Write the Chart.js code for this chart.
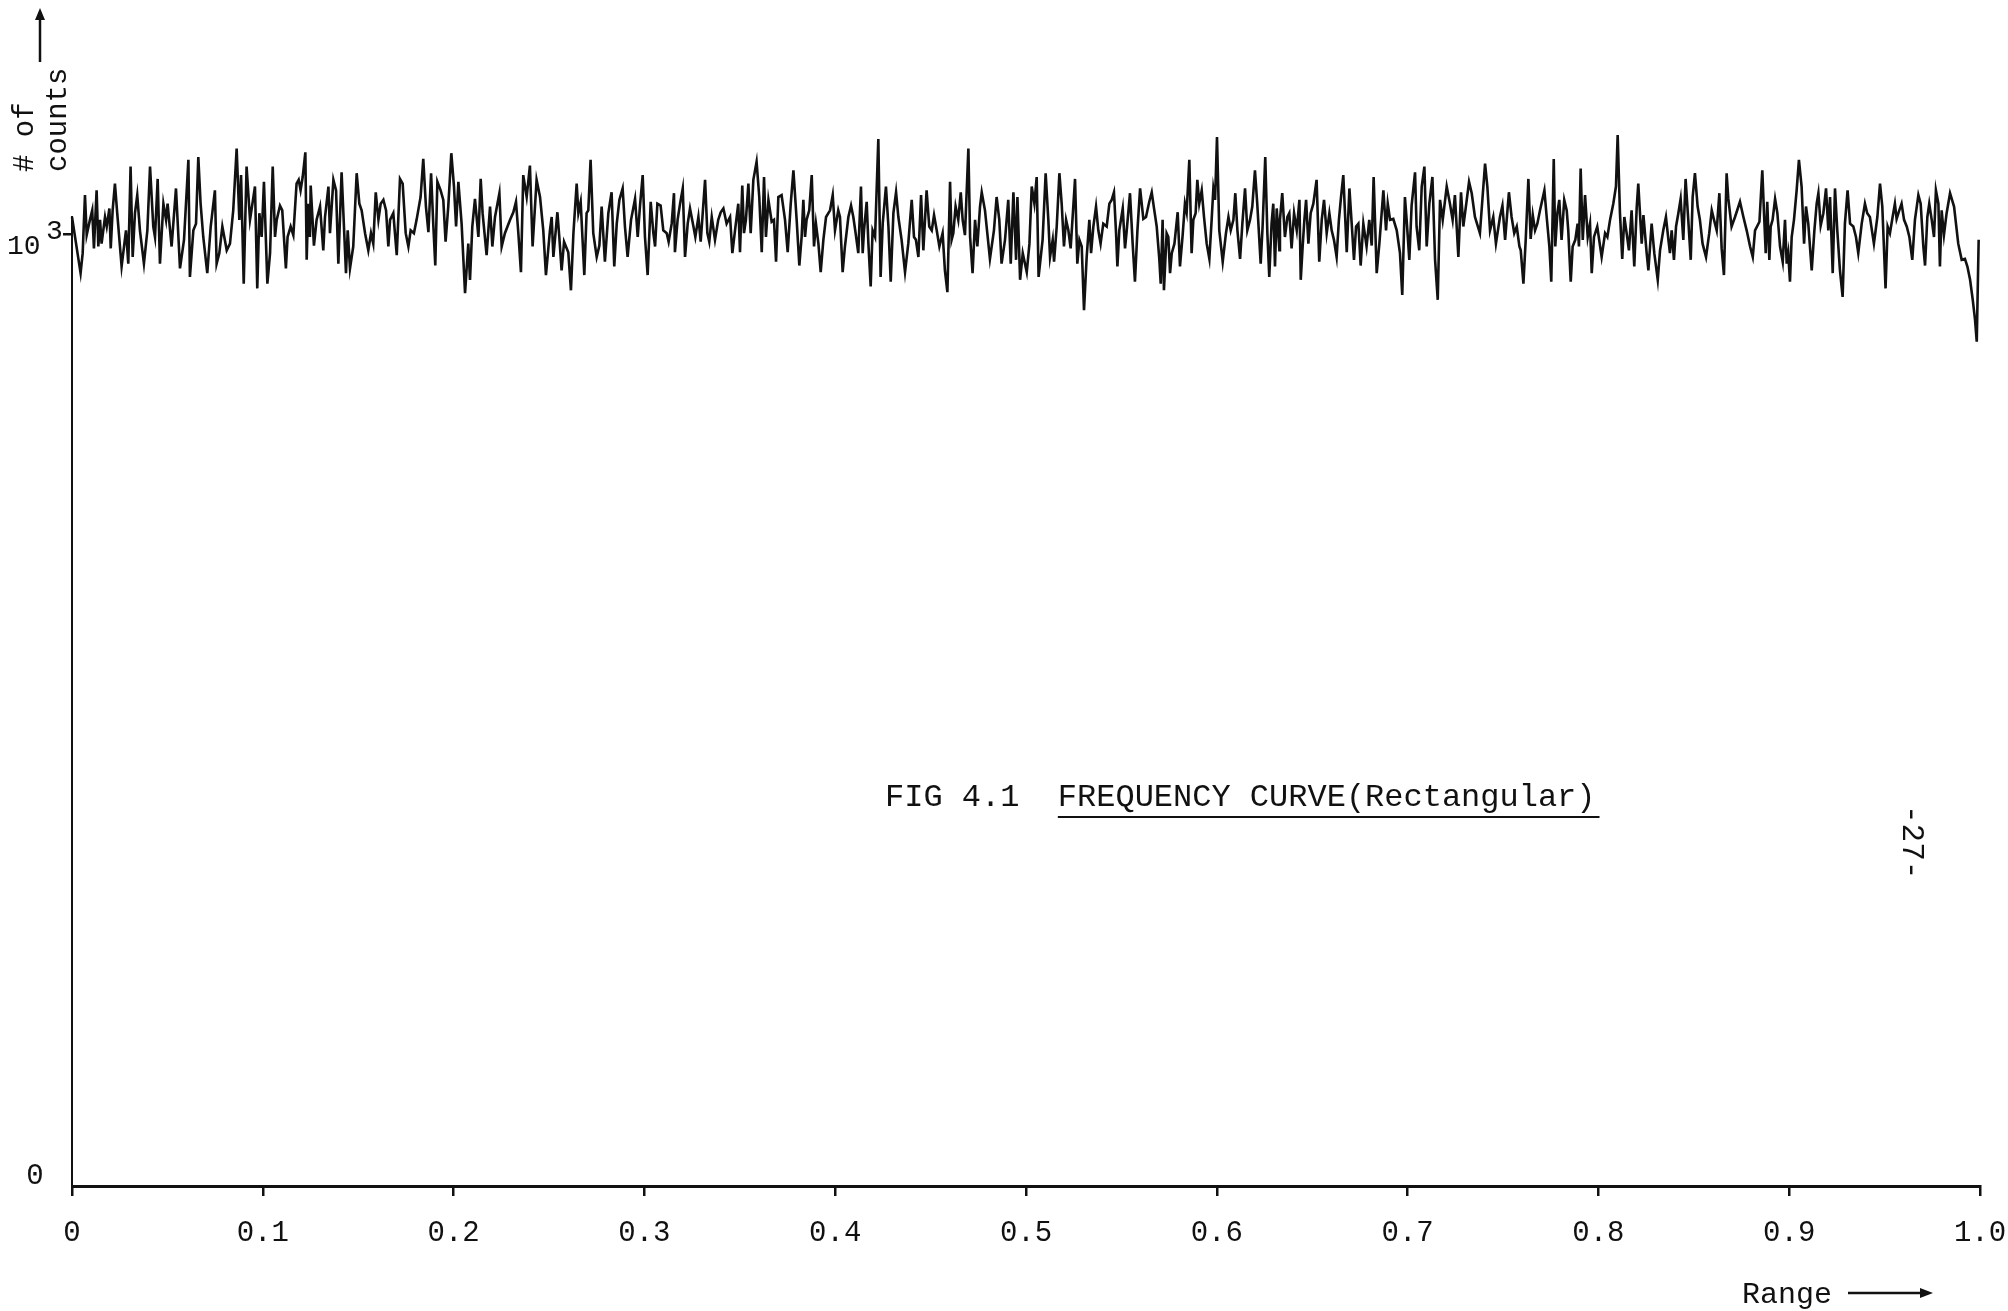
<!DOCTYPE html>
<html>
<head>
<meta charset="utf-8">
<script src="https://cdn.jsdelivr.net/npm/chart.js@4"></script>
<style>
  html, body { margin: 0; padding: 0; background: #fff; }
  canvas { display: block; }
</style>
</head>
<body>
<canvas id="chart" width="2008" height="1311"></canvas>
<script>
// range (bin position) and number of counts
const rangeValues = [
  0, 0.0045, 0.0056, 0.0068, 0.0077, 0.0094, 0.0106, 0.0115, 0.0129, 0.0138,
  0.0147, 0.0155, 0.0173, 0.0182, 0.0196, 0.0203, 0.0213, 0.0225, 0.0237, 0.0260,
  0.0283, 0.0295, 0.0307, 0.0318, 0.0330, 0.0342, 0.0356, 0.0377, 0.0395, 0.0409,
  0.0426, 0.0435, 0.0449, 0.0461, 0.0479, 0.0493, 0.0501, 0.0522, 0.0545, 0.0566,
  0.0587, 0.0610, 0.0618, 0.0636, 0.0650, 0.0662, 0.0674, 0.0688, 0.0709, 0.0727,
  0.0749, 0.0758, 0.0772, 0.0788, 0.0811, 0.0828, 0.0845, 0.0863, 0.0877, 0.0886,
  0.0900, 0.0915, 0.0933, 0.0959, 0.0971, 0.0982, 0.0994, 0.1006, 0.1024, 0.1038,
  0.1052, 0.1064, 0.1073, 0.1090, 0.1102, 0.1121, 0.1130, 0.1146, 0.1160, 0.1177,
  0.1188, 0.1198, 0.1209, 0.1223, 0.1230, 0.1238, 0.1247,
  0.1251, 0.1268, 0.1282, 0.1300, 0.1317, 0.1326, 0.1344, 0.1352, 0.1370, 0.1384,
  0.1396, 0.1413, 0.1436, 0.1445, 0.1457, 0.1474, 0.1492, 0.1506, 0.1518, 0.1536,
  0.1553, 0.1567, 0.1579, 0.1592, 0.1606, 0.1618, 0.1632, 0.1646, 0.1658, 0.1667,
  0.1684, 0.1702, 0.1719, 0.1733, 0.1749, 0.1763, 0.1775, 0.1792, 0.1806, 0.1827,
  0.1841, 0.1855, 0.1868, 0.1882, 0.1894, 0.1904, 0.1915, 0.1932, 0.1946, 0.1958,
  0.1972, 0.1988, 0.2002, 0.2013, 0.2025, 0.2042, 0.2060, 0.2077, 0.2086, 0.2098,
  0.2112, 0.2130, 0.2142, 0.2152, 0.2173, 0.2191, 0.2203, 0.2217, 0.2240, 0.2252,
  0.2269, 0.2296, 0.2313, 0.2327, 0.2339, 0.2353, 0.2365, 0.2383, 0.2400, 0.2414,
  0.2435, 0.2453, 0.2470, 0.2484, 0.2505,
  0.2514, 0.2523, 0.2544, 0.2554, 0.2566, 0.2579, 0.2601, 0.2615, 0.2628, 0.2645,
  0.2654, 0.2666, 0.2685, 0.2697, 0.2706, 0.2718, 0.2732, 0.2750, 0.2764, 0.2776,
  0.2793, 0.2811, 0.2828, 0.2842, 0.2855, 0.2869, 0.2886, 0.2898, 0.2912, 0.2930,
  0.2951, 0.2965, 0.2977, 0.2991, 0.3003, 0.3017, 0.3033, 0.3047, 0.3056, 0.3068,
  0.3085, 0.3099, 0.3117, 0.3127, 0.3143, 0.3155, 0.3160, 0.3174, 0.3187, 0.3201,
  0.3213, 0.3227, 0.3239, 0.3257, 0.3267, 0.3283, 0.3295, 0.3318, 0.3330, 0.3340,
  0.3353, 0.3370, 0.3387, 0.3400, 0.3414, 0.3431, 0.3449, 0.3461, 0.3475, 0.3492,
  0.3501, 0.3513, 0.3522, 0.3532, 0.3545, 0.3557, 0.3571, 0.3588, 0.3602, 0.3615,
  0.3627, 0.3637, 0.3650, 0.3667, 0.3679, 0.3690, 0.3702, 0.3719, 0.3737, 0.3751,
  0.3767, 0.3781, 0.3798, 0.3812,
  0.3824, 0.3833, 0.3842, 0.3850, 0.3864, 0.3877, 0.3889, 0.3899, 0.3912, 0.3924,
  0.3938, 0.3952, 0.3973, 0.3987, 0.3999, 0.4016, 0.4025, 0.4039, 0.4051, 0.4069,
  0.4083, 0.4095, 0.4107, 0.4121, 0.4135, 0.4144, 0.4151, 0.4165, 0.4174, 0.4186,
  0.4196, 0.4209, 0.4226, 0.4238, 0.4249, 0.4266, 0.4279, 0.4291, 0.4305, 0.4319,
  0.4331, 0.4348, 0.4366, 0.4383, 0.4401, 0.4413, 0.4423, 0.4436, 0.4450, 0.4462,
  0.4479, 0.4493, 0.4506, 0.4518, 0.4532, 0.4546, 0.4563, 0.4575, 0.4588, 0.4602,
  0.4610, 0.4619, 0.4631, 0.4645, 0.4658, 0.4668, 0.4680, 0.4698, 0.4707, 0.4720,
  0.4733, 0.4745, 0.4759, 0.4768, 0.4785, 0.4811, 0.4832, 0.4846, 0.4860, 0.4872,
  0.4890, 0.4907, 0.4920, 0.4934, 0.4948, 0.4955, 0.4969, 0.4983, 0.5004, 0.5018,
  0.5030, 0.5044, 0.5056, 0.5066,
  0.5087, 0.5103, 0.5117, 0.5126, 0.5140, 0.5147, 0.5161, 0.5175, 0.5187, 0.5199,
  0.5210, 0.5222, 0.5234, 0.5257, 0.5269, 0.5280, 0.5292, 0.5304, 0.5318, 0.5332,
  0.5341, 0.5353, 0.5367, 0.5379, 0.5391, 0.5405, 0.5423, 0.5437, 0.5449, 0.5461,
  0.5472, 0.5479, 0.5489, 0.5507, 0.5519, 0.5528, 0.5545, 0.5559, 0.5571, 0.5584,
  0.5598, 0.5615, 0.5629, 0.5646, 0.5659, 0.5671, 0.5685, 0.5699, 0.5706, 0.5716,
  0.5723, 0.5737, 0.5746, 0.5755, 0.5764, 0.5778, 0.5795, 0.5807, 0.5821, 0.5833,
  0.5842, 0.5856, 0.5868, 0.5877, 0.5889, 0.5898, 0.5908, 0.5921, 0.5933, 0.5947,
  0.5961, 0.5973, 0.5982, 0.5991, 0.6001, 0.6013, 0.6031, 0.6048, 0.6061, 0.6073,
  0.6087, 0.6097, 0.6108, 0.6122, 0.6134, 0.6148, 0.6160, 0.6174, 0.6186, 0.6200,
  0.6212, 0.6230, 0.6240, 0.6254, 0.6265, 0.6275, 0.6287, 0.6296, 0.6305, 0.6314,
  0.6328,
  0.6331, 0.6343, 0.6357, 0.6370, 0.6380, 0.6392, 0.6405, 0.6419, 0.6433, 0.6440,
  0.6450, 0.6459, 0.6468, 0.6480, 0.6492, 0.6506, 0.6523, 0.6537, 0.6550, 0.6562,
  0.6576, 0.6590, 0.6602, 0.6614, 0.6628, 0.6640, 0.6651, 0.6663, 0.6681, 0.6695,
  0.6707, 0.6719, 0.6730, 0.6742, 0.6754, 0.6768, 0.6785, 0.6799, 0.6812, 0.6822,
  0.6838, 0.6852, 0.6873, 0.6887, 0.6896, 0.6908, 0.6925, 0.6943, 0.6960, 0.6972,
  0.6986, 0.6995, 0.7009, 0.7021, 0.7039, 0.7047, 0.7061, 0.7074, 0.7088, 0.7100,
  0.7114, 0.7130, 0.7144, 0.7158, 0.7170, 0.7184, 0.7205, 0.7222, 0.7236, 0.7248,
  0.7266, 0.7280, 0.7292, 0.7310, 0.7322, 0.7336, 0.7353, 0.7379, 0.7393, 0.7406,
  0.7418, 0.7432, 0.7449, 0.7463, 0.7484, 0.7497, 0.7511, 0.7531, 0.7545, 0.7559,
  0.7572, 0.7586,
  0.7593, 0.7607, 0.7619, 0.7633, 0.7645, 0.7656, 0.7668, 0.7680, 0.7694, 0.7717,
  0.7729, 0.7743, 0.7753, 0.7766, 0.7774, 0.7785, 0.7795, 0.7807, 0.7821, 0.7834,
  0.7842, 0.7855, 0.7865, 0.7879, 0.7891, 0.7898, 0.7907, 0.7918, 0.7930, 0.7944,
  0.7956, 0.7965, 0.7977, 0.7994, 0.8017, 0.8035, 0.8047, 0.8061, 0.8078, 0.8092,
  0.8101, 0.8113, 0.8125, 0.8136, 0.8148, 0.8160, 0.8174, 0.8188, 0.8201, 0.8209,
  0.8227, 0.8236, 0.8253, 0.8262, 0.8279, 0.8293, 0.8311, 0.8323, 0.8340, 0.8354,
  0.8367, 0.8375, 0.8384, 0.8396, 0.8407, 0.8419, 0.8431, 0.8445, 0.8457, 0.8471,
  0.8484, 0.8494, 0.8506, 0.8520, 0.8532, 0.8546, 0.8564, 0.8581, 0.8594, 0.8606,
  0.8620, 0.8634, 0.8646, 0.8658, 0.8672, 0.8681, 0.8698, 0.8716, 0.8742, 0.8760,
  0.8777, 0.8795, 0.8809, 0.8821, 0.8844,
  0.8859, 0.8868, 0.8877, 0.8885, 0.8896, 0.8903, 0.8913, 0.8926, 0.8938, 0.8952,
  0.8966, 0.8978, 0.8987, 0.8995, 0.9004, 0.9013, 0.9025, 0.9039, 0.9051, 0.9065,
  0.9078, 0.9088, 0.9100, 0.9118, 0.9132, 0.9144, 0.9153, 0.9165, 0.9179, 0.9193,
  0.9205, 0.9214, 0.9228, 0.9240, 0.9252, 0.9266, 0.9280, 0.9292, 0.9306, 0.9319,
  0.9336, 0.9350, 0.9362, 0.9380, 0.9397, 0.9409, 0.9423, 0.9444, 0.9462, 0.9476,
  0.9488, 0.9505, 0.9516, 0.9528, 0.9542, 0.9554, 0.9563, 0.9577, 0.9589, 0.9602,
  0.9616, 0.9630, 0.9645, 0.9659, 0.9677, 0.9689, 0.9703, 0.9712, 0.9724, 0.9734,
  0.9747, 0.9759, 0.9769, 0.9782, 0.9790, 0.9799, 0.9811, 0.9825, 0.9843, 0.9864,
  0.9886, 0.9904, 0.9921, 0.9934, 0.9948, 0.9962, 0.9974, 0.9983, 0.9993
];

const counts = [
  1018, 959, 980, 1041, 999, 1015, 1025, 985, 1046, 987,
  1015, 990, 1018, 1008, 1027, 985, 1025, 1053, 1022, 966,
  1004, 969, 1071, 976, 1022, 1041, 1004, 969, 1004, 1071,
  1008, 997, 1058, 969, 1032, 1015, 1032, 987, 1048, 964,
  994, 1078, 955, 1004, 1011, 1081, 1032, 997, 959, 1008,
  1046, 969, 980, 1008, 983, 990, 1025, 1090, 1015, 1062,
  948, 1071, 1015, 1050, 943, 1022, 997, 1055, 948, 980,
  1071, 997, 1015, 1030, 1025, 964, 997, 1008, 999, 1053,
  1057, 1046, 1060, 1086, 973, 1032, 997,
  1051, 988, 1015, 1029, 983, 1018, 1050, 1001, 1057, 1046,
  969, 1065, 959, 1004, 964, 987, 1064, 1032, 1025, 1001,
  983, 1001, 990, 1044, 1015, 1032, 1036, 1025, 987, 1015,
  1022, 978, 1058, 1053, 1001, 987, 1004, 1001, 1015, 1039,
  1079, 1029, 1002, 1064, 1008, 967, 1055, 1046, 1036, 992,
  1029, 1085, 1050, 1008, 1055, 1011, 938, 990, 952, 1008,
  1037, 997, 1058, 1022, 978, 1029, 987, 1018, 1043, 987,
  1001, 1015, 1023, 1034, 1002, 960, 1062, 1039, 1072, 987,
  1057, 1039, 1004, 957, 1004,
  1018, 976, 1023, 997, 962, 992, 981, 941, 1001, 1053,
  1022, 1034, 957, 1022, 1025, 1078, 1001, 976, 988, 1029,
  971, 1022, 1044, 966, 1011, 1036, 1048, 1008, 976, 1015,
  1037, 997, 1030, 1062, 997, 957, 1034, 1001, 987, 1032,
  1030, 1004, 1001, 992, 1011, 1043, 981, 1015, 1032, 1048,
  976, 1011, 1027, 1008, 997, 1018, 992, 1057, 1001, 992,
  1018, 994, 1015, 1023, 1027, 1011, 1018, 980, 1004, 1032,
  981, 1051, 1001, 1015, 1053, 1001, 1057, 1076, 1039, 981,
  1060, 997, 1036, 1013, 1015, 971, 1039, 1041, 1015, 981,
  1032, 1067, 1015, 967,
  997, 1036, 997, 1015, 1025, 1062, 987, 1011, 990, 960,
  994, 1018, 1025, 1041, 1004, 1025, 1018, 960, 987, 1018,
  1030, 1018, 1001, 980, 1050, 980, 1004, 1034, 990, 945,
  1004, 997, 1100, 955, 1011, 1050, 1008, 950, 1022, 1044,
  1018, 994, 960, 990, 1036, 997, 994, 976, 1041, 983,
  1046, 1008, 1004, 1020, 1004, 987, 1001, 962, 939, 1055,
  994, 1001, 1029, 1015, 1044, 1015, 999, 1090, 997, 959,
  1015, 987, 1029, 1044, 1025, 974, 1004, 1039, 1015, 969,
  994, 1036, 969, 1044, 973, 1039, 952, 980, 960, 990,
  1050, 1032, 1060, 955,
  994, 1064, 1015, 976, 994, 971, 1008, 1064, 1032, 987,
  1015, 1004, 985, 1058, 969, 994, 987, 920, 976, 1015,
  980, 1008, 1029, 1004, 990, 1011, 1008, 1032, 1036, 1044,
  1001, 966, 1004, 1027, 985, 1004, 1043, 990, 950, 1004,
  1048, 1016, 1018, 1034, 1044, 1027, 1008, 973, 948, 1015,
  941, 1001, 997, 959, 980, 990, 1023, 966, 999, 1032,
  1023, 1078, 980, 1015, 1022, 1057, 1032, 1046, 1018, 990,
  974, 1015, 1048, 1036, 1102, 1004, 971, 1001, 1018, 1004,
  1015, 1043, 1004, 974, 1011, 1048, 1004, 1015, 1029, 1067,
  1032, 969, 1008, 1081, 1001, 955, 1011, 1032, 966, 1027,
  983,
  1015, 1043, 997, 1018, 1022, 985, 1022, 1004, 1036, 952,
  987, 1015, 1036, 990, 1022, 1032, 1057, 971, 1015, 1036,
  1001, 1022, 1004, 994, 976, 1015, 1039, 1062, 981, 1048,
  1011, 973, 1008, 1011, 967, 1011, 987, 1015, 988, 1060,
  959, 990, 1046, 1004, 1032, 1015, 1016, 1004, 980, 936,
  1039, 1015, 973, 1030, 1065, 1008, 983, 1050, 1071, 987,
  1032, 1060, 973, 931, 1036, 1015, 1050, 1032, 1015, 1041,
  976, 1044, 1008, 1036, 1055, 1043, 1018, 1001, 1039, 1074,
  1050, 1004, 1018, 990, 1018, 1030, 994, 1044, 1018, 1001,
  1008, 987,
  983, 948, 994, 1058, 995, 1020, 1004, 1011, 1025, 1046,
  1018, 987, 950, 1079, 987, 1022, 1036, 994, 1036, 1025,
  1004, 950, 987, 994, 1011, 987, 1069, 994, 1041, 997,
  1011, 959, 997, 1008, 976, 1001, 997, 1015, 1032, 1050,
  1104, 1022, 974, 1018, 1001, 983, 1025, 966, 1029, 1053,
  990, 1020, 980, 962, 1011, 980, 952, 983, 1004, 1018,
  994, 980, 1004, 973, 1008, 1022, 1037, 994, 1058, 1015,
  973, 1039, 1064, 1029, 1015, 990, 976, 1001, 1025, 1015,
  1004, 1043, 985, 957, 1064, 1037, 1008, 1018, 1034, 1018,
  1004, 987, 976, 1004, 1013,
  1067, 1022, 980, 1034, 973, 1008, 1015, 1037, 1022, 987,
  971, 1015, 969, 980, 950, 997, 1015, 1046, 1078, 1050,
  990, 1029, 1011, 962, 1004, 1032, 1043, 1009, 1022, 1048,
  1004, 1039, 959, 1048, 1004, 962, 934, 1011, 1046, 1011,
  1008, 997, 980, 1011, 1032, 1022, 1018, 990, 1018, 1053,
  1029, 943, 1008, 1001, 1018, 1032, 1016, 1025, 1032, 1015,
  1008, 997, 973, 1015, 1041, 1032, 987, 967, 1018, 1032,
  1015, 997, 1046, 1032, 966, 1025, 999, 1022, 1043, 1029,
  990, 973, 974, 966, 952, 931, 910, 887, 994
];

const xTickValues = [0, 0.1, 0.2, 0.3, 0.4, 0.5, 0.6, 0.7, 0.8, 0.9, 1.0];
const xTickLabels = ["0", "0.1", "0.2", "0.3", "0.4", "0.5", "0.6", "0.7", "0.8", "0.9", "1.0"];
const yTickValues = [0, 1000];
const yTickLabels = ["0", "10"];
const yTickExponents = ["", "3"];

const MONO = "'Liberation Mono', 'Courier New', monospace";
const INK = "#111";

// texts of the scanned figure that are not part of the axes
const figureText = {
    id: "figureText",
    afterDraw(chart) {
        const c = chart.ctx;
        const ys = chart.scales.y;
        c.save();
        c.fillStyle = INK;
        c.strokeStyle = INK;

        // y tick labels (0 and 10^3)
        yTickValues.forEach((v, i) => {
            const py = ys.getPixelForValue(v);
            if (yTickExponents[i]) {
                c.font = "28px " + MONO;
                c.textAlign = "left";
                c.textBaseline = "middle";
                c.fillText(yTickLabels[i], 7, py + 12);
                c.fillText(yTickExponents[i], 46, py - 3);
            } else {
                c.font = "29px " + MONO;
                c.textAlign = "center";
                c.textBaseline = "middle";
                c.fillText(yTickLabels[i], 35, py - 10);
            }
        });

        // y axis title, rotated
        c.font = "29px " + MONO;
        c.textAlign = "left";
        c.textBaseline = "middle";
        [["# of", 25], ["counts", 58]].forEach(([t, x]) => {
            c.save();
            c.translate(x, 172);
            c.rotate(-Math.PI / 2);
            c.fillText(t, 0, 0);
            c.restore();
        });
        // arrow up
        c.lineWidth = 2.5;
        c.beginPath();
        c.moveTo(40, 62);
        c.lineTo(40, 12);
        c.stroke();
        c.beginPath();
        c.moveTo(40, 8);
        c.lineTo(35, 20);
        c.lineTo(45, 20);
        c.closePath();
        c.fill();

        // figure caption
        c.font = "32px " + MONO;
        c.textAlign = "left";
        c.textBaseline = "middle";
        const lead = "FIG 4.1  ";
        const cap = "FREQUENCY CURVE(Rectangular)";
        c.fillText(lead + cap, 885, 798);
        const x0 = 885 + c.measureText(lead).width;
        const x1 = x0 + c.measureText(cap).width;
        c.lineWidth = 2.2;
        c.beginPath();
        c.moveTo(x0, 817);
        c.lineTo(x1 + 4, 817);
        c.stroke();

        // page number, rotated
        c.font = "31px " + MONO;
        c.save();
        c.translate(1911, 805);
        c.rotate(Math.PI / 2);
        c.fillText("-27-", 0, 0);
        c.restore();

        // x axis title with arrow
        c.font = "30px " + MONO;
        c.fillText("Range", 1742, 1295);
        c.lineWidth = 2.5;
        c.beginPath();
        c.moveTo(1848, 1293);
        c.lineTo(1922, 1293);
        c.stroke();
        c.beginPath();
        c.moveTo(1933, 1293);
        c.lineTo(1920, 1288);
        c.lineTo(1920, 1298);
        c.closePath();
        c.fill();

        c.restore();
    },
};

const ctx = document.getElementById("chart").getContext("2d");

new Chart(ctx, {
    type: "line",
    data: {
        datasets: [
            {
                label: "# of counts",
                data: rangeValues.map((r, i) => ({ x: r, y: counts[i] })),
                borderColor: INK,
                borderWidth: 2.6,
                pointRadius: 0,
                tension: 0,
                fill: false,
                clip: false,
            },
        ],
    },
    options: {
        responsive: false,
        animation: false,
        layout: { padding: { top: 217, right: 28, left: 0, bottom: 0 } },
        scales: {
            x: {
                type: "linear",
                min: 0,
                max: 1,
                afterFit: (s) => {
                    s.height = 125;
                    s.paddingLeft = 0;
                    s.paddingRight = 0;
                },
                afterBuildTicks: (s) => { s.ticks = xTickValues.map((v) => ({ value: v })); },
                ticks: {
                    callback: (v, i) => xTickLabels[i],
                    font: { family: MONO, size: 29 },
                    color: INK,
                    padding: 20,
                    maxRotation: 0,
                    autoSkip: false,
                },
                grid: { drawOnChartArea: false, drawTicks: true, tickLength: 10, color: INK, lineWidth: 2.5 },
                border: { display: true, color: INK, width: 3 },
            },
            y: {
                type: "linear",
                min: 0,
                max: 1018,
                afterFit: (s) => { s.width = 72; },
                afterBuildTicks: (s) => { s.ticks = yTickValues.map((v) => ({ value: v })); },
                ticks: { display: false },
                grid: {
                    drawOnChartArea: false,
                    drawTicks: true,
                    tickLength: 9,
                    lineWidth: 2.5,
                    color: (c) => (c.tick && c.tick.value === 0 ? "rgba(0,0,0,0)" : INK),
                },
                border: { display: true, color: INK, width: 2 },
            },
        },
        plugins: {
            legend: { display: false },
            tooltip: { enabled: false },
        },
    },
    plugins: [figureText],
});
</script>
</body>
</html>
